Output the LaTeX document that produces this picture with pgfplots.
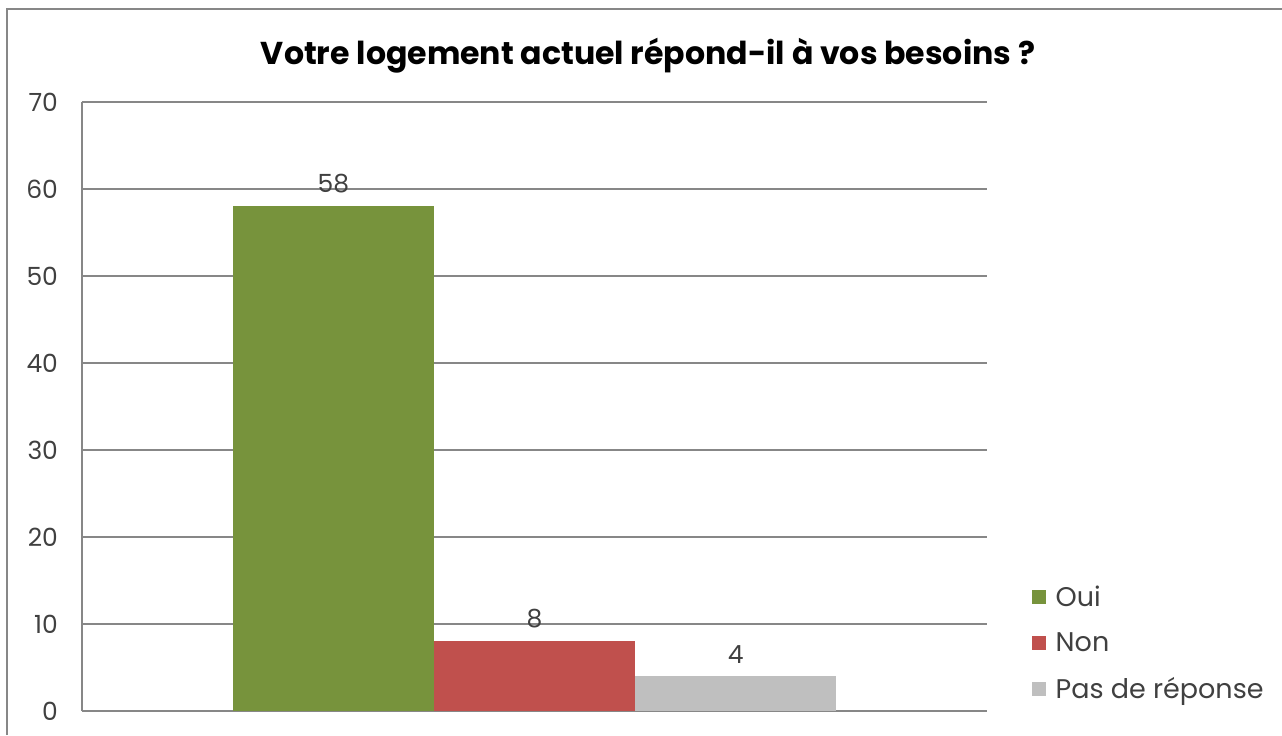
\documentclass[border=0pt]{standalone}
\usepackage{pgfplots}
\pgfplotsset{compat=1.18}
\usepackage{fontspec}
\setmainfont{Poppins}
\definecolor{cgreen}{HTML}{77933C}
\definecolor{cred}{HTML}{C0504D}
\definecolor{cgray}{HTML}{BFBFBF}
\definecolor{gridc}{HTML}{878787}
\definecolor{txt}{HTML}{404040}
\begin{document}
\begin{tikzpicture}
\path[use as bounding box] (0,0) rectangle (641pt,367.5pt);
\draw[gridc, line width=1.2pt] (3.5pt,0) -- (3.5pt,363pt) -- (641pt,363pt);
\node[font=\bfseries\fontsize{15.8}{18}\selectfont] at (324pt,339.5pt) {Votre logement actuel répond-il à vos besoins ?};
\begin{axis}[
  at={(41pt,12pt)}, anchor=south west,
  scale only axis, width=452.5pt, height=304.5pt,
  xmin=-2.25, xmax=2.25, ymin=0, ymax=70,
  ytick={0,10,...,70}, xtick=\empty,
  axis x line*=bottom, axis y line*=left,
  axis line style={gridc, line width=0.6pt},
  ymajorgrids, grid style={gridc, line width=0.6pt},
  major tick length=0pt,
  /pgf/number format/assume math mode=true,
  yticklabel style={font=\fontsize{12.5}{14}\selectfont, text=txt, xshift=-8.5pt},
  bar width=1, 
  nodes near coords,
  every node near coord/.append style={font=\fontsize{12.5}{14}\selectfont, text=txt, yshift=3pt},
  legend style={at={(1.049,0.009)}, anchor=south west, draw=none, fill=none,
    font=\fontsize{13.5}{15}\selectfont, text=txt, row sep=7.5pt, inner sep=0pt,
    legend cell align=left, /tikz/every odd column/.style={column sep=3pt}},
  legend image code/.code={\fill[#1] (0pt,-3.5pt) rectangle (7pt,3.5pt);},
  clip=false,
]
\addplot[ybar, bar shift=0pt, fill=cgreen, draw=none] coordinates {(-1,58)};
\addlegendentry{Oui}
\addplot[ybar, bar shift=0pt, fill=cred, draw=none] coordinates {(0,8)};
\addlegendentry{Non}
\addplot[ybar, bar shift=0pt, fill=cgray, draw=none] coordinates {(1,4)};
\addlegendentry{Pas de réponse}
\end{axis}
\end{tikzpicture}
\end{document}
